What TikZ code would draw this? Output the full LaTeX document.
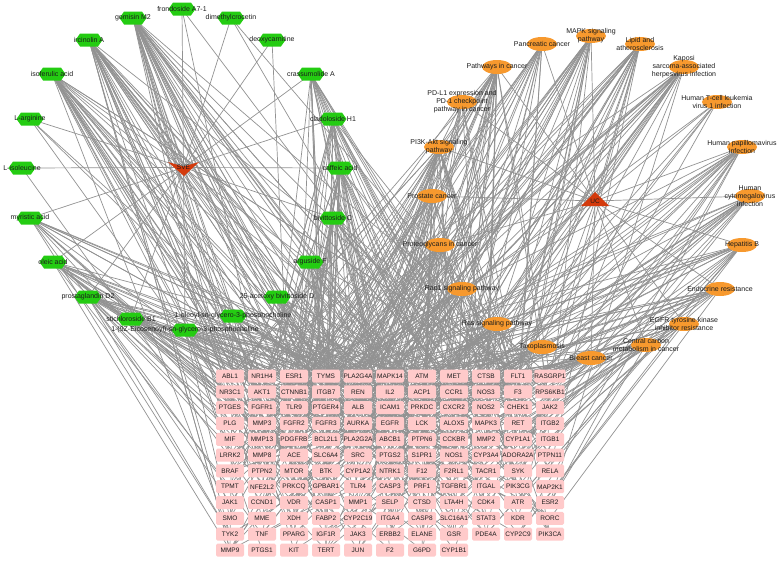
\documentclass[tikz,border=0pt]{standalone}
\usepackage{fontspec}
\setmainfont{Liberation Sans}
\usetikzlibrary{shapes.geometric,shapes.symbols}
\pgfdeclarelayer{edges}
\pgfsetlayers{edges,main}
\definecolor{edgegray}{RGB}{146,146,146}
\definecolor{hexgreen}{RGB}{36,204,18}
\definecolor{pathorange}{RGB}{247,153,46}
\definecolor{hubred}{RGB}{212,58,12}
\definecolor{genepink}{RGB}{255,202,202}
\definecolor{labeltext}{RGB}{28,28,28}
\tikzset{
  edge/.style={draw=edgegray, line width=0.7pt},
  compound/.style={signal, signal to=west and east, signal pointer angle=110,
    fill=hexgreen, draw=none, minimum width=27pt, minimum height=13pt, inner sep=0pt},
  pathway/.style={ellipse, fill=pathorange, draw=none, minimum width=30pt,
    minimum height=14pt, inner sep=0pt},
  gene/.style={rectangle, rounded corners=1.5pt, fill=genepink, draw=none,
    minimum width=28pt, minimum height=13pt, inner sep=0pt,
    font=\fontsize{6.5}{7}\selectfont, text=labeltext},
  nodelabel/.style={font=\fontsize{7}{8}\selectfont, text=labeltext,
    align=center, inner sep=0pt},
  hublabel/.style={font=\fontsize{6.5}{7}\selectfont, text=labeltext, inner sep=0pt}
}
\begin{document}
\begin{tikzpicture}[x=1pt,y=-1pt]
\useasboundingbox (0,0) rectangle (782,562);
\pgfmathsetseed{2024}

% compounds on the left ring
\foreach \n/\x/\y/\txt in {
  c1/182/9/{frondoside A7-1},
  c2/133/18/{gomisin M2},
  c3/231/18/{dimethylcrocetin},
  c4/89/40/{ircinolin A},
  c5/272/40/{deoxycarnitine},
  c6/52/74/{isoferulic acid},
  c7/311/74/{crassumolide A},
  c8/30/119/{L-arginine},
  c9/333/119/{cladoloside H1},
  c10/22/168/{L-isoleucine},
  c11/340/168/{caffeic acid},
  c12/30/218/{myristic acid},
  c13/333/218/{bivittoside C},
  c14/53/262/{oleic acid},
  c15/310/262/{arguside F},
  c16/88/297/{prostaglandin D2},
  c17/277/297/{25-acetoxy bivittoside D},
  c18/131/319/{stichloroside B1},
  c19/233/316/{1-oleoyl-sn-glycero-3-phosphocholine},
  c20/185/330/{1-(9Z-Eicosenoyl)-sn-glycero-3-phosphocholine}}
{
  \node[compound] (\n) at (\x,\y) {};
  \node[nodelabel] at (\n.center) {\txt};
}

% pathways on the right ring
\foreach \n/\x/\y/\txt in {
  p1/591/36/{MAPK signaling\\pathway},
  p2/542/44/{Pancreatic cancer},
  p3/640/44/{Lipid and\\atherosclerosis},
  p4/497/67/{Pathways in cancer},
  p5/684/67/{Kaposi\\sarcoma-associated\\herpesvirus infection},
  p6/462/102/{PD-L1 expression and\\PD-1 checkpoint\\pathway in cancer},
  p7/717/102/{Human T-cell leukemia\\virus 1 infection},
  p8/439/147/{PI3K-Akt signaling\\pathway},
  p9/742/147/{Human papillomavirus\\infection},
  p10/432/196/{Prostate cancer},
  p11/750/196/{Human\\cytomegalovirus\\infection},
  p12/440/245/{Proteoglycans in cancer},
  p13/742/245/{Hepatitis B},
  p14/462/289/{Rap1 signaling pathway},
  p15/720/289/{Endocrine resistance},
  p16/497/324/{Ras signaling pathway},
  p17/684/324/{EGFR tyrosine kinase\\inhibitor resistance},
  p18/542/347/{Toxoplasmosis},
  p19/646/345/{Central carbon\\metabolism in cancer},
  p20/591/358/{Breast cancer}}
{
  \node[pathway] (\n) at (\x,\y) {};
  \node[nodelabel] at (\n.center) {\txt};
}

% the two hubs
\fill[hubred] (168,162) -- (183.5,166.5) -- (199,162) -- (184,176) -- cycle;
\node[hublabel] (sve) at (183.5,167.5) {SVE};
\fill[hubred] (581,206) -- (595,192) -- (609,206) -- cycle;
\node[hublabel] (uc) at (595,201) {UC};

% target genes in a grid
\foreach \g [count=\i] in {
  ABL1,NR1H4,ESR1,TYMS,PLA2G4A,MAPK14,ATM,MET,CTSB,FLT1,RASGRP1,
  NR3C1,AKT1,CTNNB1,ITGB7,REN,IL2,ACP1,CCR1,NOS3,F3,RPS6KB1,
  PTGES,FGFR1,TLR9,PTGER4,ALB,ICAM1,PRKDC,CXCR2,NOS2,CHEK1,JAK2,
  PLG,MMP3,FGFR2,FGFR3,AURKA,EGFR,LCK,ALOX5,MAPK3,RET,ITGB2,
  MIF,MMP13,PDGFRB,BCL2L1,PLA2G2A,ABCB1,PTPN6,CCKBR,MMP2,CYP1A1,ITGB1,
  LRRK2,MMP8,ACE,SLC6A4,SRC,PTGS2,S1PR1,NOS1,CYP3A4,ADORA2A,PTPN11,
  BRAF,PTPN2,MTOR,BTK,CYP1A2,NTRK1,F12,F2RL1,TACR1,SYK,RELA,
  TPMT,NFE2L2,PRKCQ,GPBAR1,TLR4,CASP3,PRF1,TGFBR1,ITGAL,PIK3CG,MAP2K1,
  JAK1,CCND1,VDR,CASP1,MMP1,SELP,CTSD,LTA4H,CDK4,ATR,ESR2,
  SMO,MME,XDH,FABP2,CYP2C19,ITGA4,CASP8,SLC16A1,STAT3,KDR,RORC,
  TYK2,TNF,PPARG,IGF1R,JAK3,ERBB2,ELANE,GSR,PDE4A,CYP2C9,PIK3CA,
  MMP9,PTGS1,KIT,TERT,JUN,F2,G6PD,CYP1B1}
{
  \pgfmathtruncatemacro\gr{div(\i-1,11)}
  \pgfmathtruncatemacro\gc{mod(\i-1,11)}
  \node[gene] (t\i) at ({230+32*\gc},{376+15.82*\gr}) {\g};
}

\begin{pgfonlayer}{edges}
  % hub links
  \foreach \i in {1,...,20} {
    \draw[edge] (sve.center) -- (c\i.center);
    \draw[edge] (uc.center) -- (p\i.center);
  }
  % compound -> target links
  \foreach \s/\d in {c1/2,c2/32,c3/2,c4/28,c5/1,c6/24,c7/18,c8/3,c9/18,c10/1,
                     c11/22,c12/13,c13/18,c14/17,c15/15,c16/16,c17/15,c18/14,c19/14,c20/14} {
    \foreach \k in {1,...,\d} {
      \pgfmathrandominteger{\tg}{1}{129}
      \draw[edge] (\s.center) -- (t\tg.center);
    }
  }
  % pathway -> target links
  \foreach \s/\d in {p1/20,p2/15,p3/20,p4/28,p5/20,p6/10,p7/5,p8/24,p9/15,p10/15,
                     p11/15,p12/20,p13/16,p14/18,p15/15,p16/20,p17/12,p18/10,p19/10,p20/15} {
    \foreach \k in {1,...,\d} {
      \pgfmathrandominteger{\tg}{1}{129}
      \draw[edge] (\s.center) -- (t\tg.center);
    }
  }
\end{pgfonlayer}
\end{tikzpicture}
\end{document}
